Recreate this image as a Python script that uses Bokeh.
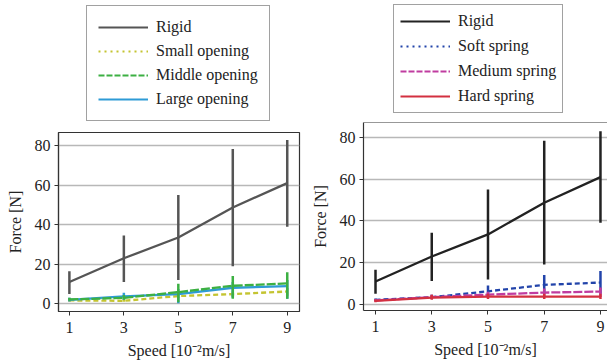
from bokeh.plotting import figure
from bokeh.layouts import row, column
from bokeh.models import Legend, LegendItem, FixedTicker, Range1d, Span
from bokeh.embed import file_html
from bokeh.resources import INLINE

speed = [1, 3, 5, 7, 9]
x_ticks = [1, 3, 5, 7, 9]
y_ticks = [0, 20, 40, 60, 80]

# Left panel: openings
rigid_l = [11.0, 23.0, 33.5, 48.7, 61.0]
rigid_l_lo = [5.0, 11.0, 12.0, 19.0, 39.0]
rigid_l_hi = [16.5, 34.5, 55.0, 78.3, 82.8]
small = [1.7, 1.5, 3.9, 4.9, 6.2]
small_lo = [1.0, 1.0, 2.8, 3.5, 4.0]
small_hi = [2.5, 2.2, 5.0, 6.2, 8.0]
middle = [2.2, 3.0, 5.9, 9.1, 10.3]
middle_lo = [1.5, 2.0, 0.8, 2.5, 2.5]
middle_hi = [3.0, 4.5, 10.1, 14.0, 16.0]
large = [2.0, 3.7, 4.9, 8.1, 8.9]
large_lo = [1.2, 2.0, 0.3, 3.0, 2.5]
large_hi = [3.0, 5.6, 7.5, 11.0, 12.0]

# Right panel: springs
rigid_r = [10.9, 22.9, 33.5, 48.7, 61.0]
rigid_r_lo = [5.0, 11.1, 11.9, 19.1, 39.1]
rigid_r_hi = [16.5, 34.3, 55.1, 78.5, 83.0]
soft = [2.1, 3.4, 6.2, 9.3, 10.4]
soft_lo = [1.5, 2.5, 3.5, 5.0, 5.0]
soft_hi = [2.8, 4.5, 9.0, 14.0, 16.0]
medium = [1.8, 3.4, 4.6, 5.6, 6.1]
medium_lo = [1.2, 2.5, 3.0, 3.5, 3.5]
medium_hi = [2.5, 4.5, 6.0, 7.5, 8.0]
hard = [1.6, 3.2, 3.7, 3.7, 3.7]
hard_lo = [1.0, 2.1, 2.5, 2.5, 2.5]
hard_hi = [2.3, 4.5, 5.0, 5.0, 5.0]

FONT = "Liberation Serif"
H = 364


def make_fig(width, height, border_left, border_right, border_top, border_bottom, xr, yr):
    p = figure(width=width, height=height, output_backend="svg", toolbar_location=None,
               x_range=Range1d(*xr), y_range=Range1d(*yr),
               min_border_left=border_left, min_border_right=border_right,
               min_border_top=border_top, min_border_bottom=border_bottom)
    p.background_fill_color = "white"
    p.border_fill_color = "white"
    p.outline_line_color = "#333333"
    p.outline_line_width = 1.2
    p.xgrid.visible = False
    p.ygrid.grid_line_color = "#b8b8b8"
    p.ygrid.grid_line_width = 1.4
    p.xaxis.ticker = FixedTicker(ticks=x_ticks)
    p.yaxis.ticker = FixedTicker(ticks=y_ticks)
    for ax in (p.xaxis[0], p.yaxis[0]):
        ax.axis_line_color = "#333333"
        ax.axis_line_width = 1.2
        ax.major_tick_line_color = "#333333"
        ax.major_tick_out = 4
        ax.major_tick_in = 0
        ax.minor_tick_line_color = None
        ax.major_label_text_font = FONT
        ax.major_label_text_font_size = "16px"
        ax.major_label_text_color = "#222222"
        ax.axis_label_text_font = FONT
        ax.axis_label_text_font_size = "16px"
        ax.axis_label_text_font_style = "normal"
        ax.axis_label_text_color = "#222222"
    p.xaxis.axis_label = "Speed [10\u207b\u00b2m/s]"
    p.yaxis.axis_label = "Force [N]"
    p.xaxis.major_label_standoff = 6
    p.yaxis.major_label_standoff = 4
    p.xaxis.axis_label_standoff = 6
    p.yaxis.axis_label_standoff = 8
    return p


def series(p, y, lo, hi, color, dash="solid", width=2.3):
    p.segment(x0=speed, y0=lo, x1=speed, y1=hi, line_color=color, line_width=2.5)
    p.line(speed, y, line_color=color, line_width=width, line_dash=dash)


def legend_fig(width, height, entries, padding, spacing, loc):
    # entries: (label, values, color, dash) -- lines fall outside the visible y range
    lf = figure(width=width, height=height, output_backend="svg", toolbar_location=None,
                x_range=Range1d(0.6, 9.45), y_range=Range1d(1000, 1001),
                x_axis_location=None, y_axis_location=None,
                min_border_left=0, min_border_right=0, min_border_top=0, min_border_bottom=0)
    lf.outline_line_color = None
    lf.xgrid.visible = False
    lf.ygrid.visible = False
    items = []
    for label, vals, color, dash in entries:
        r = lf.line(speed, vals, line_color=color, line_width=2, line_dash=dash)
        items.append(LegendItem(label=label, renderers=[r]))
    leg = Legend(items=items)
    leg.location = loc
    leg.orientation = "vertical"
    leg.label_text_font = FONT
    leg.label_text_font_size = "16px"
    leg.label_text_color = "#222222"
    leg.label_height = 20
    leg.glyph_height = 20
    leg.glyph_width = 50
    leg.label_standoff = 8
    leg.spacing = spacing
    leg.padding = padding
    leg.margin = 0
    leg.border_line_color = "#444444"
    leg.border_line_width = 1.2
    leg.background_fill_alpha = 1.0
    lf.add_layout(leg)
    return lf


C_RIG_L, C_SMALL, C_MID, C_LARGE = "#555555", "#c4c431", "#3cb043", "#2e9bd6"
C_RIG_R, C_SOFT, C_MED, C_HARD = "#222222", "#2244aa", "#c03ca0", "#d33040"

# Left
W1 = 303
LH1 = 126
l1 = legend_fig(W1, LH1, [("Rigid", rigid_l, C_RIG_L, "solid"),
                          ("Small opening", small, C_SMALL, "2 4"),
                          ("Middle opening", middle, C_MID, "6 2"),
                          ("Large opening", large, C_LARGE, "solid")], 11, 4, (28, 5))
p1 = make_fig(W1, H - LH1, 58, 4, 6, 53, (0.6, 9.45), (-3.9, 86.6))
series(p1, rigid_l, rigid_l_lo, rigid_l_hi, C_RIG_L)
series(p1, small, small_lo, small_hi, C_SMALL, dash="5 3")
series(p1, large, large_lo, large_hi, C_LARGE)
series(p1, middle, middle_lo, middle_hi, C_MID, dash="9 2")

# Right (its frame runs past the picture's right edge: no right border line)
W2 = 304
LH2 = 118
l2 = legend_fig(W2, LH2, [("Rigid", rigid_r, C_RIG_R, "solid"),
                          ("Soft spring", soft, C_SOFT, "2 4"),
                          ("Medium spring", medium, C_MED, "6 2"),
                          ("Hard spring", hard, C_HARD, "solid")], 6, 5, (30, 5))
p2 = make_fig(W2, H - LH2, 60, 0, 4, 54, (0.573, 9.25), (-3.0, 87.2))
p2.outline_line_color = None
p2.add_layout(Span(location=p2.y_range.end, dimension="width",
                   line_color="#333333", line_width=1.2))
series(p2, rigid_r, rigid_r_lo, rigid_r_hi, C_RIG_R)
series(p2, soft, soft_lo, soft_hi, C_SOFT, dash="5 3")
series(p2, medium, medium_lo, medium_hi, C_MED, dash="9 2")
series(p2, hard, hard_lo, hard_hi, C_HARD)

layout = row(column(l1, p1), column(l2, p2))
open("out.html", "w").write(file_html(layout, INLINE))
